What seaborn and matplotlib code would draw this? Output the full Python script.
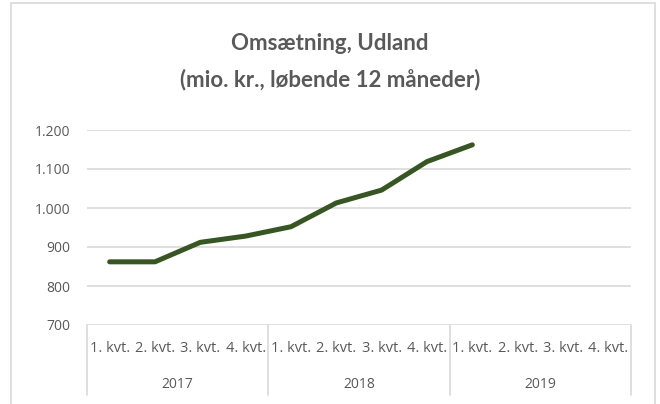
import matplotlib.pyplot as plt
import matplotlib.patches as patches
import pandas as pd
import seaborn as sns
from matplotlib.ticker import FuncFormatter

# data
years = ["2017", "2018", "2019"]
quarters = ["1. kvt.", "2. kvt.", "3. kvt.", "4. kvt."]
revenue = [862, 862, 912, 928, 952, 1013, 1046, 1119, 1162]
y_ticks = [700, 800, 900, 1000, 1100, 1200]

TEXT_COLOR = "#595959"
GRID_COLOR = "#d9d9d9"
LINE_COLOR = "#375623"

sns.set_theme(style="white")
plt.rcParams["font.family"] = ["Open Sans", "DejaVu Sans"]

n_cats = len(years) * len(quarters)
df = pd.DataFrame({"pos": range(len(revenue)), "value": revenue})

fig = plt.figure(figsize=(6.6, 4.04), dpi=100)
fig.patches.append(
    patches.Rectangle((11 / 660, -0.05), 644 / 660, 1.05 - 3 / 404,
                      transform=fig.transFigure, fill=False,
                      edgecolor=GRID_COLOR, linewidth=1.2)
)

ax = fig.add_axes([87 / 660, 1 - 325 / 404, 544 / 660, 195 / 404])
sns.lineplot(data=df, x="pos", y="value", ax=ax, color=LINE_COLOR,
             linewidth=3.6, solid_capstyle="round", solid_joinstyle="round")

ax.set_xlim(-0.5, n_cats - 0.5)
ax.set_ylim(y_ticks[0], y_ticks[-1])
ax.set_yticks(y_ticks)
ax.yaxis.set_major_formatter(FuncFormatter(lambda v, _: f"{int(v):,}".replace(",", ".")))
ax.tick_params(axis="y", length=0, pad=12, labelsize=10, labelcolor=TEXT_COLOR)
ax.set_xticks([])
ax.set_xlabel("")
ax.set_ylabel("")
for side in ["top", "right", "left", "bottom"]:
    ax.spines[side].set_visible(False)
for v in y_ticks:
    ax.axhline(v, color=GRID_COLOR, linewidth=1.2, zorder=0)

# two-level category axis
trans = ax.get_xaxis_transform()
bottom = -70 / 195
for i in range(len(years) + 1):
    x = -0.5 + 4 * i
    ax.plot([x, x], [0, bottom], color=GRID_COLOR, linewidth=1.2,
            transform=trans, clip_on=False)
for j, yr in enumerate(years):
    for k, q in enumerate(quarters):
        ax.text(4 * j + k, -24 / 195, q, transform=trans, ha="center",
                va="center", fontsize=10.5, color=TEXT_COLOR)
    ax.text(1.5 + 4 * j, -60 / 195, yr, transform=trans, ha="center",
            va="center", fontsize=10, color=TEXT_COLOR)

fig.text(0.5, 1 - 43 / 404, "Omsætning, Udland", ha="center", va="center",
         family=["Lato", "DejaVu Sans"], fontsize=16, fontweight="bold",
         color=TEXT_COLOR)
fig.text(0.5, 1 - 80 / 404, "(mio. kr., løbende 12 måneder)", ha="center",
         va="center", family=["Lato", "DejaVu Sans"], fontsize=16,
         fontweight="bold", color=TEXT_COLOR)

fig.savefig("out.png", dpi=100, facecolor="white")
